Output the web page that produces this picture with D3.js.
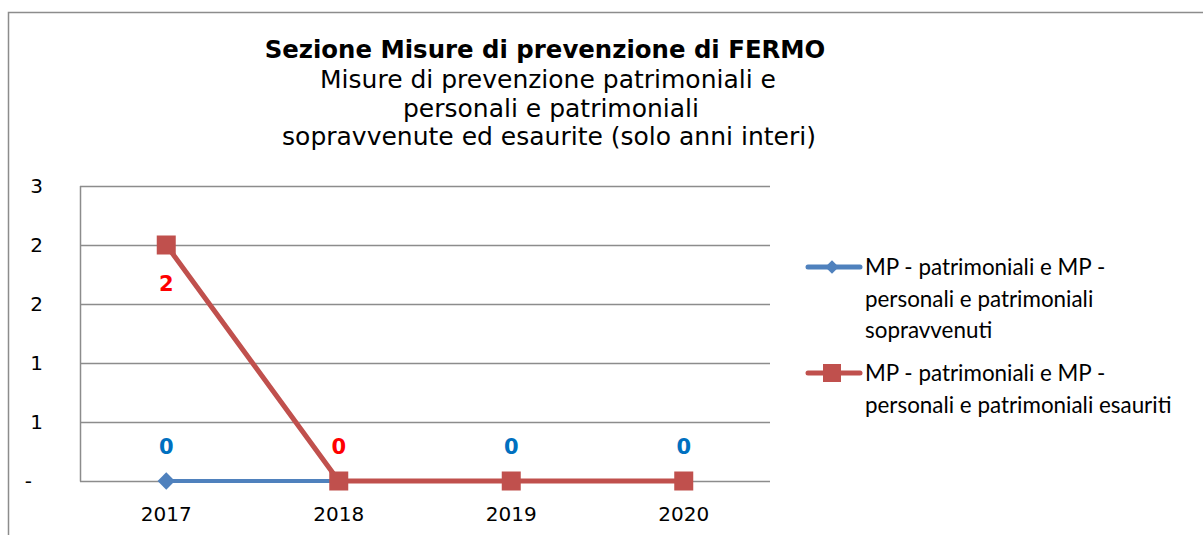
<!DOCTYPE html>
<html lang="it">
<head>
  <meta charset="UTF-8">
  <title>Sezione Misure di prevenzione di FERMO</title>
  <style>
    body { margin: 0; background: #fff; }
    .grid line { stroke: #8c8c8c; stroke-width: 1.5px; }
    .tick-label { font-family: "DejaVu Sans", sans-serif; font-size: 20px; fill: #000; }
    .legend text { font-family: Lato, "Open Sans", sans-serif; font-size: 22.4px; fill: #000; }
    .dlabel { font-family: "DejaVu Sans", sans-serif; font-weight: bold; font-size: 21px; }
  </style>
</head>
<body>
  <script src="https://cdn.jsdelivr.net/npm/d3@7"></script>
  <script>
    // dati
    const years = ['2017', '2018', '2019', '2020'];
    const sopravvenuti = [0, 0, 0, 0];
    const esauriti = [2, 0, 0, 0];
    const yTicks = [0, 0.5, 1, 1.5, 2, 2.5];
    const yTickLabels = ['-', '1', '1', '2', '2', '3'];
    const blueLabelYears = ['2017', '2019', '2020'];
    const redLabelYears = ['2017', '2018'];

    const titolo = 'Sezione Misure di prevenzione di FERMO';
    const sottotitolo = ['Misure di prevenzione patrimoniali e', 'personali e patrimoniali', 'sopravvenute ed esaurite (solo anni interi)'];
    const legendLabels = [
      ['MP - patrimoniali e MP -', 'personali e patrimoniali', 'sopravvenuti'],
      ['MP - patrimoniali e MP -', 'personali e patrimoniali esauriti']
    ];

    const width = 1203, height = 535;
    const plot = { left: 80, right: 770, top: 186, bottom: 481 };
    const blue = '#4f81bd', red = '#c0504d';

    const svg = d3.select('body').append('svg')
      .attr('width', width).attr('height', height);

    // cornice esterna
    svg.append('rect')
      .attr('x', 8.5).attr('y', 12.5).attr('width', 1300).attr('height', 600)
      .attr('fill', 'none').attr('stroke', '#8c8c8c').attr('stroke-width', 1.5);

    // titolo
    svg.append('text')
      .attr('x', 545).attr('y', 58)
      .attr('text-anchor', 'middle')
      .style('font-family', '"DejaVu Sans", sans-serif')
      .style('font-weight', 'bold').style('font-size', '24.4px')
      .text(titolo);
    const subX = [548, 551, 549];
    svg.selectAll('text.sub').data(sottotitolo).enter().append('text')
      .attr('class', 'sub')
      .attr('x', (d, i) => subX[i]).attr('y', (d, i) => 88 + i * 28.7)
      .attr('text-anchor', 'middle')
      .style('font-family', '"DejaVu Sans", sans-serif')
      .style('font-size', '25px')
      .text(d => d);

    const x = d3.scaleBand().domain(years).range([plot.left, plot.right]);
    const y = d3.scaleLinear().domain([0, 2.5]).range([plot.bottom, plot.top]);
    const cx = d => x(d) + x.bandwidth() / 2;

    // griglia
    const grid = svg.append('g').attr('class', 'grid');
    grid.selectAll('line.h').data(yTicks).enter().append('line')
      .attr('class', 'h')
      .attr('x1', plot.left).attr('x2', plot.right)
      .attr('y1', d => Math.round(y(d)) + 0.5).attr('y2', d => Math.round(y(d)) + 0.5);
    grid.append('line')
      .attr('x1', plot.left + 0.5).attr('x2', plot.left + 0.5)
      .attr('y1', plot.top).attr('y2', plot.bottom + 0.5);

    // etichette assi
    svg.selectAll('text.ylab').data(yTicks).enter().append('text')
      .attr('class', 'tick-label ylab')
      .attr('x', (d, i) => yTickLabels[i] === '-' ? 32 : 43)
      .attr('y', d => y(d))
      .attr('dy', '0.36em')
      .attr('text-anchor', 'end')
      .text((d, i) => yTickLabels[i]);
    svg.selectAll('text.xlab').data(years).enter().append('text')
      .attr('class', 'tick-label xlab')
      .attr('x', d => cx(d)).attr('y', 521)
      .attr('text-anchor', 'middle')
      .text(d => d);

    const line = d3.line().x(d => cx(d.year)).y(d => y(d.v));
    const blueData = years.map((yr, i) => ({ year: yr, v: sopravvenuti[i] }));
    const redData = years.map((yr, i) => ({ year: yr, v: esauriti[i] }));

    // serie sopravvenuti
    svg.append('path').datum(blueData)
      .attr('d', line).attr('fill', 'none')
      .attr('stroke', blue).attr('stroke-width', 4);
    svg.selectAll('path.diamond').data(blueData).enter().append('path')
      .attr('class', 'diamond')
      .attr('transform', d => `translate(${cx(d.year)},${y(d.v)}) rotate(45)`)
      .attr('d', d3.symbol(d3.symbolSquare, 150))
      .attr('fill', blue);

    // serie esauriti
    svg.append('path').datum(redData)
      .attr('d', line).attr('fill', 'none')
      .attr('stroke', red).attr('stroke-width', 5).attr('stroke-linejoin', 'round');
    svg.selectAll('rect.sq').data(redData).enter().append('rect')
      .attr('class', 'sq')
      .attr('x', d => cx(d.year) - 9.5).attr('y', d => y(d.v) - 9.5)
      .attr('width', 19).attr('height', 19)
      .attr('fill', red);

    // etichette dati
    svg.selectAll('text.bl').data(blueData.filter(d => blueLabelYears.includes(d.year))).enter().append('text')
      .attr('class', 'dlabel bl')
      .attr('x', d => cx(d.year)).attr('y', d => y(d.v) - 35)
      .attr('dy', '0.36em').attr('text-anchor', 'middle')
      .attr('fill', '#0070c0')
      .text(d => d.v);
    svg.selectAll('text.rl').data(redData.filter(d => redLabelYears.includes(d.year))).enter().append('text')
      .attr('class', 'dlabel rl')
      .attr('x', d => cx(d.year))
      .attr('y', d => d.v > 0 ? y(d.v) + 38 : y(d.v) - 35)
      .attr('dy', '0.36em').attr('text-anchor', 'middle')
      .attr('fill', '#ff0000')
      .text(d => d.v);

    // legenda
    const legend = svg.append('g').attr('class', 'legend');
    const legendY = [267, 373];
    const lineGap = 31.5;
    legendLabels.forEach((lines, i) => {
      const g = legend.append('g').attr('transform', `translate(0,${legendY[i]})`);
      g.append('line')
        .attr('x1', 808).attr('x2', 860).attr('y1', 0).attr('y2', 0)
        .attr('stroke', i === 0 ? blue : red).attr('stroke-width', 5)
        .attr('stroke-linecap', 'round');
      if (i === 0) {
        g.append('path')
          .attr('transform', 'translate(832,0) rotate(45)')
          .attr('d', d3.symbol(d3.symbolSquare, 90))
          .attr('fill', blue);
      } else {
        g.append('rect')
          .attr('x', 823).attr('y', -9).attr('width', 18).attr('height', 18)
          .attr('fill', red);
      }
      g.selectAll('text').data(lines).enter().append('text')
        .attr('x', 865).attr('y', (d, j) => j * lineGap)
        .attr('dy', '0.36em')
        .text(d => d);
    });
  </script>
</body>
</html>
